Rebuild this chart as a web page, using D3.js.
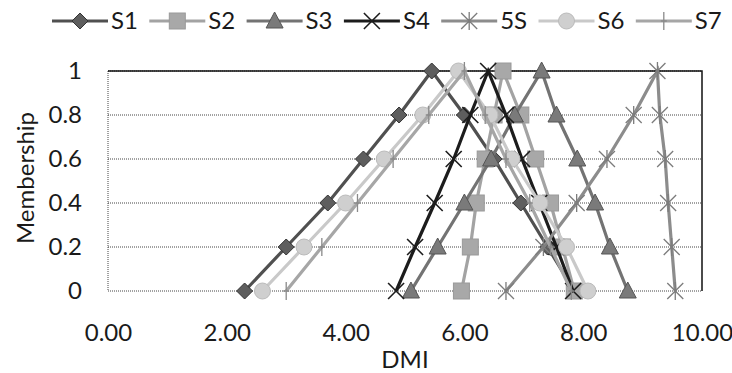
<!DOCTYPE html>
<html>
<head>
<meta charset="utf-8">
<script src="https://cdnjs.cloudflare.com/ajax/libs/d3/7.8.5/d3.min.js"></script>
<style>
  body { margin: 0; background: #fff; }
  text { font-family: Lato, "Open Sans", sans-serif; fill: #1a1a1a; }
</style>
</head>
<body>
<svg id="chart" width="732" height="373"></svg>
<script>
// membership levels, same for every series (up the left side, down the right)
var membership = [0, 0.2, 0.4, 0.6, 0.8, 1, 0.8, 0.6, 0.4, 0.2, 0];

// DMI values
var s1 = [2.3, 3.0, 3.7, 4.3, 4.9, 5.45, 6.0, 6.5, 6.95, 7.4, 7.85];
var s2 = [5.95, 6.1, 6.2, 6.35, 6.5, 6.65, 6.95, 7.2, 7.45, 7.65, 7.85];
var s3 = [5.1, 5.55, 6.0, 6.45, 6.85, 7.3, 7.55, 7.9, 8.2, 8.45, 8.75];
var s4 = [4.85, 5.17, 5.5, 5.82, 6.1, 6.4, 6.7, 6.97, 7.26, 7.55, 7.83];
var s5 = [6.7, 7.33, 7.89, 8.4, 8.85, 9.25, 9.29, 9.38, 9.43, 9.49, 9.55];
var s6 = [2.6, 3.3, 4.0, 4.65, 5.3, 5.9, 6.43, 6.8, 7.27, 7.72, 8.08];
var s7 = [3.0, 3.6, 4.2, 4.8, 5.4, 6.0, 6.35, 6.7, 7.1, 7.45, 7.8];

var seriesNames = ["S1", "S2", "S3", "S4", "5S", "S6", "S7"];
var xTicks = [0, 2, 4, 6, 8, 10];
var yTicks = [0, 0.2, 0.4, 0.6, 0.8, 1];

var series = [
  {name: seriesNames[0], vals: s1, color: "#505050", mark: "diamond", mfill: "#5e5e5e"},
  {name: seriesNames[1], vals: s2, color: "#a3a3a3", mark: "square", mfill: "#a8a8a8"},
  {name: seriesNames[2], vals: s3, color: "#737373", mark: "triangle", mfill: "#7a7a7a"},
  {name: seriesNames[3], vals: s4, color: "#1c1c1c", mark: "x", mfill: "#1c1c1c"},
  {name: seriesNames[4], vals: s5, color: "#8c8c8c", mark: "star", mfill: "#7c7c7c"},
  {name: seriesNames[5], vals: s6, color: "#c9c9c9", mark: "circle", mfill: "#cfcfcf"},
  {name: seriesNames[6], vals: s7, color: "#a6a6a6", mark: "plus", mfill: "#8a8a8a"}
];

var fs = 24;
var svg = d3.select("#chart");
var pLeft = 108, pRight = 702, pTop = 71, pBottom = 291;

var x = d3.scaleLinear().domain([0, 10]).range([pLeft, pRight]);
var y = d3.scaleLinear().domain([0, 1]).range([pBottom, pTop]);

// gridlines (dotted)
svg.append("g").selectAll("line").data(yTicks).join("line")
  .attr("x1", pLeft).attr("x2", pRight)
  .attr("y1", function(d){ return y(d); }).attr("y2", function(d){ return y(d); })
  .attr("stroke", "#444").attr("stroke-width", 1).attr("stroke-dasharray", "1,1");
svg.append("line").attr("x1", pLeft).attr("x2", pLeft).attr("y1", pTop).attr("y2", pBottom)
  .attr("stroke", "#444").attr("stroke-dasharray", "1,1");
// top and right edge are solid
svg.append("path")
  .attr("d", "M" + pLeft + "," + pTop + "H" + pRight + "V" + pBottom)
  .attr("fill", "none").attr("stroke", "#111").attr("stroke-width", 1.5);

// axes, text only
var xAxis = d3.axisBottom(x).tickValues(xTicks).tickSize(0).tickPadding(0)
  .tickFormat(d3.format(".2f"));
var gx = svg.append("g").attr("transform", "translate(0," + 333 + ")").call(xAxis);
gx.select(".domain").remove();
gx.selectAll("text").attr("font-size", fs).attr("dy", "0.35em")
  .style("font-family", "Lato, sans-serif").attr("fill", "#1a1a1a");

var yAxis = d3.axisLeft(y).tickValues(yTicks).tickSize(0).tickPadding(0)
  .tickFormat(function(d){ return d3.format("")(d); });
var gy = svg.append("g").attr("transform", "translate(82,0)").call(yAxis);
gy.select(".domain").remove();
gy.selectAll("text").attr("font-size", fs)
  .style("font-family", "Lato, sans-serif").attr("fill", "#1a1a1a");

svg.append("text").attr("x", (pLeft + pRight) / 2).attr("y", 360)
  .attr("text-anchor", "middle").attr("dy", "0.35em").attr("font-size", fs).text("DMI");
svg.append("text").attr("transform", "translate(26," + ((pTop + pBottom) / 2 - 3) + ") rotate(-90)")
  .attr("text-anchor", "middle").attr("dy", "0.35em").attr("font-size", fs).text("Membership");

function drawMarker(g, s, cx, cy) {
  var m = s.mark;
  if (m == "diamond") {
    g.append("path").attr("d", "M" + cx + "," + (cy - 8) + "L" + (cx + 8) + "," + cy + "L" + cx + "," + (cy + 8) + "L" + (cx - 8) + "," + cy + "Z")
      .attr("fill", s.mfill).attr("stroke", "#333").attr("stroke-width", 1);
  } else if (m == "square") {
    g.append("rect").attr("x", cx - 8).attr("y", cy - 8).attr("width", 16).attr("height", 16)
      .attr("fill", s.mfill).attr("stroke", "#999").attr("stroke-width", 1);
  } else if (m == "triangle") {
    g.append("path").attr("d", "M" + cx + "," + (cy - 9) + "L" + (cx + 8.5) + "," + (cy + 7) + "L" + (cx - 8.5) + "," + (cy + 7) + "Z")
      .attr("fill", s.mfill).attr("stroke", "#555").attr("stroke-width", 1);
  } else if (m == "circle") {
    g.append("circle").attr("cx", cx).attr("cy", cy).attr("r", 8)
      .attr("fill", s.mfill).attr("stroke", "#bbb").attr("stroke-width", 1);
  } else {
    var d = "";
    if (m == "x" || m == "star")
      d += "M" + (cx - 8) + "," + (cy - 8) + "L" + (cx + 8) + "," + (cy + 8) + "M" + (cx + 8) + "," + (cy - 8) + "L" + (cx - 8) + "," + (cy + 8);
    if (m == "star" || m == "plus")
      d += "M" + cx + "," + (cy - 9) + "L" + cx + "," + (cy + 9);
    if (m == "plus")
      d += "M" + (cx - 3) + "," + cy + "L" + (cx + 3) + "," + cy;
    g.append("path").attr("d", d).attr("fill", "none").attr("stroke", s.mfill).attr("stroke-width", m == "x" ? 1.6 : 1.3);
  }
}

var line = d3.line()
  .x(function(d){ return x(d[0]); })
  .y(function(d){ return y(d[1]); });

series.forEach(function(s){
  var pts = s.vals.map(function(v, i){ return [v, membership[i]]; });
  var g = svg.append("g");
  g.append("path").datum(pts).attr("d", line)
    .attr("fill", "none").attr("stroke", s.color).attr("stroke-width", 3.2);
  pts.forEach(function(p){ drawMarker(g, s, x(p[0]), y(p[1])); });
});

// legend
var legY = 21;
series.forEach(function(s, i){
  var lx = 52 + i * 97.3;
  var g = svg.append("g");
  g.append("line").attr("x1", lx).attr("x2", lx + 56).attr("y1", legY).attr("y2", legY)
    .attr("stroke", s.color).attr("stroke-width", 3.2);
  drawMarker(g, s, lx + 28, legY);
  g.append("text").attr("x", lx + 59).attr("y", legY).attr("dy", "0.35em")
    .attr("font-size", fs).text(s.name);
});
</script>
</body>
</html>
